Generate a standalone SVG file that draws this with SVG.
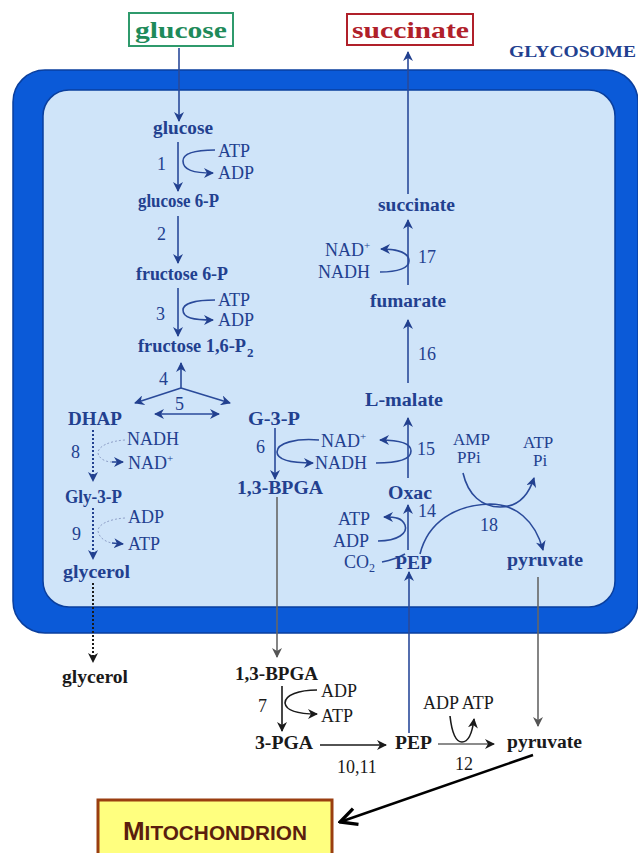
<svg xmlns="http://www.w3.org/2000/svg" width="638" height="853" viewBox="0 0 638 853">
<style>
.m{font-family:"Liberation Serif",serif;font-weight:bold;font-size:18px;fill:#22408f}
.c{font-family:"Liberation Serif",serif;font-size:18px;fill:#22408f}
.s{font-family:"Liberation Serif",serif;font-size:17px;fill:#22408f}
.n{font-family:"Liberation Serif",serif;font-size:18px;fill:#22408f}
.mk{font-family:"Liberation Serif",serif;font-weight:bold;font-size:18px;fill:#1a1a1a}
.ck{font-family:"Liberation Serif",serif;font-size:18px;fill:#1a1a1a}
.sub{font-family:"Liberation Serif",serif;font-weight:bold;font-size:13px;fill:#22408f}
.ln{fill:none;stroke:#2a4a9a;stroke-width:1.6}
.lk{fill:none;stroke:#1a1a1a;stroke-width:1.6}
.lg{fill:none;stroke:#666;stroke-width:1.6}
.dot{fill:none;stroke:#22408f;stroke-width:2;stroke-dasharray:2 2}
.dotk{fill:none;stroke:#1a1a1a;stroke-width:2;stroke-dasharray:2 2}
.thin{fill:none;stroke:#8fa0c8;stroke-width:1;stroke-dasharray:2 2}
</style>
<defs>
<marker id="ah" viewBox="0 0 10 10" refX="9" refY="5" markerWidth="10" markerHeight="10" markerUnits="userSpaceOnUse" orient="auto-start-reverse"><path d="M0,0 L10,5 L0,10 L3,5 z" fill="#22408f"/></marker>
<marker id="ak" viewBox="0 0 10 10" refX="9" refY="5" markerWidth="10" markerHeight="10" markerUnits="userSpaceOnUse" orient="auto"><path d="M0,0 L10,5 L0,10 L3,5 z" fill="#1a1a1a"/></marker>
<marker id="ag" viewBox="0 0 10 10" refX="9" refY="5" markerWidth="10" markerHeight="10" markerUnits="userSpaceOnUse" orient="auto"><path d="M0,0 L10,5 L0,10 L3,5 z" fill="#555"/></marker>
<marker id="av" viewBox="0 0 12 12" refX="11" refY="6" markerWidth="20" markerHeight="20" markerUnits="userSpaceOnUse" orient="auto"><path d="M1,1 L11,6 L1,11" fill="none" stroke="#000" stroke-width="2"/></marker>
</defs>
<rect width="638" height="853" fill="#ffffff"/>
<g id="glycosome">
<rect x="13" y="70" width="625" height="563" rx="32" fill="#0b5ad8" stroke="#0a3f9e" stroke-width="1.5"/>
<rect x="43" y="90" width="572" height="517" rx="26" fill="#cfe4f9" stroke="#0a3f9e" stroke-width="1.5"/>
<text x="509" y="57" font-family="Liberation Serif,serif" font-weight="bold" font-size="17" fill="#22408f" textLength="127" lengthAdjust="spacingAndGlyphs">GLYCOSOME</text>
</g>
<g id="glucose-ext">
<rect x="129" y="13" width="104" height="33" fill="#ffffff" stroke="#2f9a6c" stroke-width="2"/>
<text x="135" y="38" font-family="Liberation Serif,serif" font-weight="bold" font-size="24" fill="#1e8a5a" textLength="92" lengthAdjust="spacingAndGlyphs">glucose</text>
</g>
<g id="succinate-ext">
<rect x="347" y="14" width="126" height="31" fill="#ffffff" stroke="#b0202a" stroke-width="2"/>
<text x="352" y="38" font-family="Liberation Serif,serif" font-weight="bold" font-size="24" fill="#b0202a" textLength="117" lengthAdjust="spacingAndGlyphs">succinate</text>
</g>
<g id="connectors">
<path class="ln" d="M179,48 V121" marker-end="url(#ah)"/>
<path class="ln" d="M408,194 V52" marker-end="url(#ah)"/>
<path class="ln" d="M178,142 V191" marker-end="url(#ah)"/>
<path class="ln" d="M215,150 C197,150 183,153 183,161 C183,170 193,173 213,173" marker-end="url(#ah)"/>
<path class="ln" d="M178,216 V263" marker-end="url(#ah)"/>
<path class="ln" d="M178,288 V336" marker-end="url(#ah)"/>
<path class="ln" d="M215,300 C197,300 183,303 183,310 C183,318 193,320 213,320" marker-end="url(#ah)"/>
<path class="ln" d="M181,388 V363" marker-end="url(#ah)"/>
<path class="ln" d="M181,388 L135,403" marker-end="url(#ah)"/>
<path class="ln" d="M181,388 L230,403" marker-end="url(#ah)"/>
<path class="ln" d="M155,414 H219" marker-start="url(#ah)" marker-end="url(#ah)"/>
<path class="ln" d="M275,428 V479" marker-end="url(#ah)"/>
<path class="ln" d="M319,440 C296,438 277,443 277,452 C277,460 292,463 313,463" marker-end="url(#ah)"/>
<path class="ln" d="M376,463 C398,463 411,459 411,451 C411,443 398,440 380,440" marker-end="url(#ah)"/>
<path class="dot" d="M93,430 V481" marker-end="url(#ah)"/>
<path class="thin" d="M125,440 C110,441 98,446 98,453 C99,459 106,462 112,462"/>
<path class="ln" d="M112,462 L123,462" marker-end="url(#ah)"/>
<path class="dot" d="M93,508 V559" marker-end="url(#ah)"/>
<path class="thin" d="M125,518 C110,519 98,524 98,531 C99,538 106,542 112,543"/>
<path class="ln" d="M112,543 L123,544" marker-end="url(#ah)"/>
<path class="dotk" d="M93,583 V662" marker-end="url(#ak)"/>
<path class="lg" d="M277,497 V657" marker-end="url(#ag)"/>
<path class="lk" d="M282,686 V731" marker-end="url(#ak)"/>
<path class="lk" d="M317,690 C299,690 285,695 285,703 C286,711 297,714 317,714" marker-end="url(#ak)"/>
<path class="lk" d="M320,745 H386" marker-end="url(#ak)"/>
<path class="lg" d="M438,744 H494" marker-end="url(#ak)"/>
<path class="lk" d="M450,716 C452,734 456,742 462,742 C468,742 472,735 474,719" marker-end="url(#ak)"/>
<path class="ln" d="M409,733 V572" marker-end="url(#ah)"/>
<path class="lg" d="M538,577 V726" marker-end="url(#ag)"/>
<path fill="none" stroke="#000" stroke-width="2.5" d="M533,755 L340,822" marker-end="url(#av)"/>
<path class="ln" d="M408,285 V220" marker-end="url(#ah)"/>
<path class="ln" d="M380,272 C398,272 409,268 409,261 C409,253 398,249 381,249" marker-end="url(#ah)"/>
<path class="ln" d="M408,383 V320" marker-end="url(#ah)"/>
<path class="ln" d="M408,478 V418" marker-end="url(#ah)"/>
<path class="ln" d="M408,550 V505" marker-end="url(#ah)"/>
<path class="ln" d="M378,541 C398,541 408,533 405,525 C402,518 396,517 384,517" marker-end="url(#ah)"/>
<path class="ln" d="M382,562 C392,560 398,558 405,554"/>
<path class="ln" d="M420,554 C428,522 455,505 490,504 C515,504 535,520 543,550" marker-end="url(#ah)"/>
<path class="ln" d="M463,473 C468,495 482,507 500,507 C516,507 528,497 534,478" marker-end="url(#ah)"/>
</g>
<g id="glucose"><text class="m" x="153" y="134" textLength="60" lengthAdjust="spacingAndGlyphs">glucose</text></g>
<g id="r1"><text class="n" x="157" y="170">1</text><text class="c" x="218" y="157">ATP</text><text class="c" x="218" y="179">ADP</text></g>
<g id="glucose6p"><text class="m" x="138" y="207" textLength="81" lengthAdjust="spacingAndGlyphs">glucose 6-P</text></g>
<g id="r2"><text class="n" x="157" y="240">2</text></g>
<g id="fructose6p"><text class="m" x="136" y="280" textLength="92" lengthAdjust="spacingAndGlyphs">fructose 6-P</text></g>
<g id="r3"><text class="n" x="156" y="320">3</text><text class="c" x="218" y="306">ATP</text><text class="c" x="218" y="326">ADP</text></g>
<g id="fbp"><text class="m" x="138" y="352" textLength="108" lengthAdjust="spacingAndGlyphs">fructose 1,6-P</text><text class="sub" x="247" y="357">2</text></g>
<g id="r4"><text class="n" x="159" y="385">4</text><text class="n" x="175" y="410">5</text></g>
<g id="dhap"><text class="m" x="68" y="425" textLength="54" lengthAdjust="spacingAndGlyphs">DHAP</text></g>
<g id="g3p"><text class="m" x="248" y="425" textLength="52" lengthAdjust="spacingAndGlyphs">G-3-P</text></g>
<g id="r6"><text class="n" x="256" y="453">6</text><text class="n" x="417" y="455">15</text><text class="c" x="321" y="447">NAD<tspan font-size="11" dy="-7">+</tspan></text><text class="c" x="315" y="469">NADH</text></g>
<g id="bpga"><text class="m" x="237" y="494" textLength="86" lengthAdjust="spacingAndGlyphs">1,3-BPGA</text></g>
<g id="r8"><text class="n" x="71" y="458">8</text><text class="c" x="127" y="445">NADH</text><text class="c" x="128" y="469">NAD<tspan font-size="11" dy="-7">+</tspan></text></g>
<g id="gly3p"><text class="m" x="65" y="503" textLength="57" lengthAdjust="spacingAndGlyphs">Gly-3-P</text></g>
<g id="r9"><text class="n" x="72" y="540">9</text><text class="c" x="128" y="523">ADP</text><text class="c" x="128" y="550">ATP</text></g>
<g id="glycerol"><text class="m" x="63" y="578" textLength="67" lengthAdjust="spacingAndGlyphs">glycerol</text></g>
<g id="succinate"><text class="m" x="378" y="211" textLength="77" lengthAdjust="spacingAndGlyphs">succinate</text></g>
<g id="r17"><text class="n" x="418" y="263">17</text><text class="c" x="325" y="256">NAD<tspan font-size="11" dy="-7">+</tspan></text><text class="c" x="318" y="278">NADH</text></g>
<g id="fumarate"><text class="m" x="370" y="307" textLength="76" lengthAdjust="spacingAndGlyphs">fumarate</text></g>
<g id="r16"><text class="n" x="418" y="360">16</text></g>
<g id="lmalate"><text class="m" x="365" y="406" textLength="78" lengthAdjust="spacingAndGlyphs">L-malate</text></g>
<g id="oxac"><text class="m" x="388" y="499" textLength="44" lengthAdjust="spacingAndGlyphs">Oxac</text></g>
<g id="r14"><text class="n" x="418" y="517">14</text><text class="c" x="338" y="525">ATP</text><text class="c" x="333" y="547">ADP</text><text class="c" x="344" y="568">CO<tspan font-size="12" dy="4">2</tspan></text></g>
<g id="pep"><text class="m" x="395" y="569" textLength="37" lengthAdjust="spacingAndGlyphs">PEP</text></g>
<g id="r18"><text class="s" x="453" y="445">AMP</text><text class="s" x="457" y="463">PPi</text><text class="s" x="523" y="448">ATP</text><text class="s" x="533" y="466">Pi</text><text class="n" x="480" y="531">18</text></g>
<g id="pyruvate"><text class="m" x="507" y="566" textLength="76" lengthAdjust="spacingAndGlyphs">pyruvate</text></g>
<g id="glycerol-ext"><text class="mk" x="62" y="683" textLength="66" lengthAdjust="spacingAndGlyphs">glycerol</text></g>
<g id="bpga-ext"><text class="mk" x="235" y="680" textLength="83" lengthAdjust="spacingAndGlyphs">1,3-BPGA</text></g>
<g id="r7"><text class="ck" x="258" y="712">7</text><text class="ck" x="321" y="697">ADP</text><text class="ck" x="321" y="722">ATP</text></g>
<g id="pga"><text class="mk" x="255" y="749" textLength="58" lengthAdjust="spacingAndGlyphs">3-PGA</text></g>
<g id="r1011"><text class="ck" x="337" y="773">10,11</text></g>
<g id="pep-ext"><text class="mk" x="395" y="749" textLength="37" lengthAdjust="spacingAndGlyphs">PEP</text></g>
<g id="r12"><text class="ck" x="423" y="709">ADP ATP</text><text class="ck" x="455" y="770">12</text></g>
<g id="pyruvate-ext"><text class="mk" x="507" y="748" textLength="75" lengthAdjust="spacingAndGlyphs">pyruvate</text></g>
<g id="mitochondrion">
<rect x="98" y="800" width="234" height="62" fill="#ffff7f" stroke="#9a3e10" stroke-width="3"/>
<text x="123" y="840" font-family="Liberation Sans,Arial,sans-serif" font-weight="bold" font-size="25" fill="#5b1e0e" textLength="184" lengthAdjust="spacingAndGlyphs">M<tspan font-size="20">ITOCHONDRION</tspan></text>
</g>
</svg>
